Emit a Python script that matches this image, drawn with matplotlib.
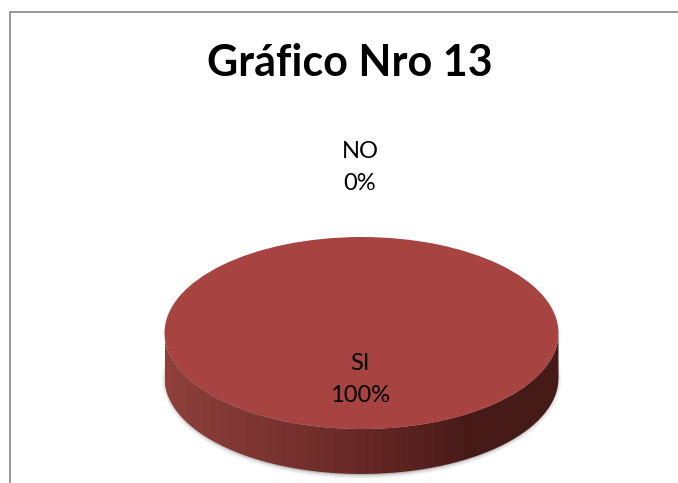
import numpy as np
import matplotlib
matplotlib.use("Agg")
import matplotlib.pyplot as plt
from matplotlib.colors import LinearSegmentedColormap
from matplotlib.patches import PathPatch, Ellipse
from matplotlib.path import Path

# Datos del grafico
categorias = ["SI", "NO"]
valores = [100, 0]
titulo = "Gráfico Nro 13"

W, H = 678, 483
CX, CY, RX, RY = 361.5, 333, 197, 96
PROF = 45

plt.rcParams["font.family"] = ["Lato", "DejaVu Sans"]

fig = plt.figure(figsize=(W / 100, H / 100), dpi=100, facecolor="white")

# Capa de fondo en pixeles
fondo = fig.add_axes([0, 0, 1, 1])
fondo.set_xlim(0, W)
fondo.set_ylim(H, 0)
fondo.axis("off")

# Borde del area del grafico (solo arriba e izquierda)
fondo.plot([9.5, 9.5, W], [H, 12, 12], color="#858585", lw=1.2, solid_joinstyle="miter")

# Sombra suave debajo del cilindro
for extra, alfa in [(5, 0.04), (3.5, 0.06), (2, 0.09), (1, 0.12)]:
    fondo.add_patch(Ellipse((CX, CY + PROF + 1), 2 * (RX - 2 + extra), 2 * (RY - 1 + extra),
                            color="black", alpha=alfa, lw=0))

# Lateral con degradado
t = np.linspace(0, np.pi, 200)
x_sup = CX + RX * np.cos(t)
y_sup = CY + RY * np.sin(t)
x_inf = x_sup[::-1]
y_inf = y_sup[::-1] + PROF
contorno = np.column_stack([np.r_[x_sup, x_inf], np.r_[y_sup, y_inf]])
lateral = PathPatch(Path(contorno), fc="none", ec="none")
fondo.add_patch(lateral)
cmap = LinearSegmentedColormap.from_list(
    "lateral", [(0, "#8f403b"), (0.25, "#7c3531"), (0.55, "#622624"), (0.78, "#471a17"), (1, "#451a17")])
grad = np.linspace(0, 1, 256).reshape(1, -1)
img = fondo.imshow(grad, cmap=cmap, aspect="auto",
                   extent=[CX - RX, CX + RX, CY + RY + PROF, CY], zorder=2)
img.set_clip_path(lateral)
fondo.set_xlim(0, W)
fondo.set_ylim(H, 0)

# Cara superior: el pastel aplastado
ax = fig.add_axes([(CX - RX) / W, 1 - (CY + RY) / H, 2 * RX / W, 2 * RY / H])
ax.pie(valores, colors=["#a74442", "#4f81bd"], radius=1, startangle=90,
       wedgeprops={"linewidth": 0})
ax.set_aspect("auto")
ax.set_xlim(-1, 1)
ax.set_ylim(-1, 1)
ax.patch.set_alpha(0)

# Textos
textos = fig.add_axes([0, 0, 1, 1])
textos.set_xlim(0, W)
textos.set_ylim(H, 0)
textos.axis("off")
textos.text(350, 63.5, titulo, ha="center", va="center", fontsize=31, fontweight="bold", color="black")
pos = {"SI": (360, 364), "NO": (360, 152)}
for cat, val in zip(categorias, valores):
    x, y = pos[cat]
    textos.text(x, y, cat, ha="center", va="center", fontsize=17, color="black")
    textos.text(x, y + 32, f"{val}%", ha="center", va="center", fontsize=17, color="black")

fig.savefig("out.png", dpi=100)
